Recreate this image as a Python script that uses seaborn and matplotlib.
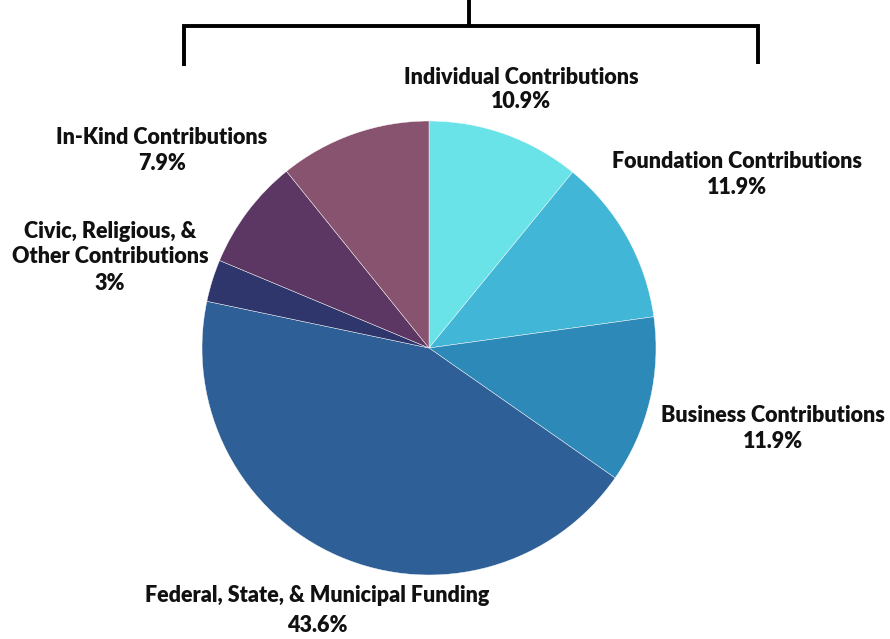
import matplotlib
matplotlib.use("Agg")
import matplotlib.pyplot as plt
import seaborn as sns

# ---- data ----
categories = [
    "Individual Contributions",
    "Foundation Contributions",
    "Business Contributions",
    "Federal, State, & Municipal Funding",
    "Civic, Religious, &\nOther Contributions",
    "In-Kind Contributions",
    "",
]
values = [10.9, 11.9, 11.9, 43.6, 3.0, 7.9, 10.8]
pct_labels = ["10.9%", "11.9%", "11.9%", "43.6%", "3%", "7.9%", ""]
colors = ["#6AE3E8", "#42B6D6", "#2D8AB8", "#2E5F97", "#2F366C", "#5C3764", "#88536F"]

sns.set_theme(style="white")
plt.rcParams["font.family"] = ["Lato", "DejaVu Sans"]

W, H = 890, 639
fig = plt.figure(figsize=(W / 100, H / 100), dpi=100)
ax = fig.add_axes([0, 0, 1, 1])

CX, CY, R = 429, 348, 227  # pixel centre/radius of the pie


def d(px, py):
    return (px - CX) / R, (CY - py) / R


ax.pie(values, colors=colors, startangle=90, counterclock=False, radius=1,
       center=(0, 0), wedgeprops=dict(edgecolor="white", linewidth=0.3))

ax.set_xlim(-CX / R, (W - CX) / R)
ax.set_ylim(-(H - CY) / R, CY / R)
ax.set_aspect("equal")
ax.axis("off")

# label placement (pixel centres of name / percentage lines)
name_pos = [(521, 77), (737, 162), (773, 416), (317, 596), (110, 244), (162, 138), None]
pct_pos = [(521, 101), (737, 187), (773, 442), (317, 626), (110, 284), (162, 163), None]

fs = 15.5
for name, pct, npos, ppos in zip(categories, pct_labels, name_pos, pct_pos):
    if npos is None:
        continue
    ax.text(*d(*npos), name, ha="center", va="center", fontsize=fs,
            fontweight="heavy", color="#111111", linespacing=1.2)
    ax.text(*d(*ppos), pct, ha="center", va="center", fontsize=fs,
            fontweight="heavy", color="#111111")

# bracket at the top
lw = 2.8
bx = [d(184, 66), d(184, 26), d(758, 26), d(758, 64)]
ax.plot([p[0] for p in bx], [p[1] for p in bx], color="black", lw=lw,
        solid_joinstyle="miter", solid_capstyle="butt", clip_on=False)
t = [d(469, 0), d(469, 26)]
ax.plot([p[0] for p in t], [p[1] for p in t], color="black", lw=lw,
        solid_capstyle="butt", clip_on=False)

fig.savefig("out.png", dpi=100, facecolor="white")
